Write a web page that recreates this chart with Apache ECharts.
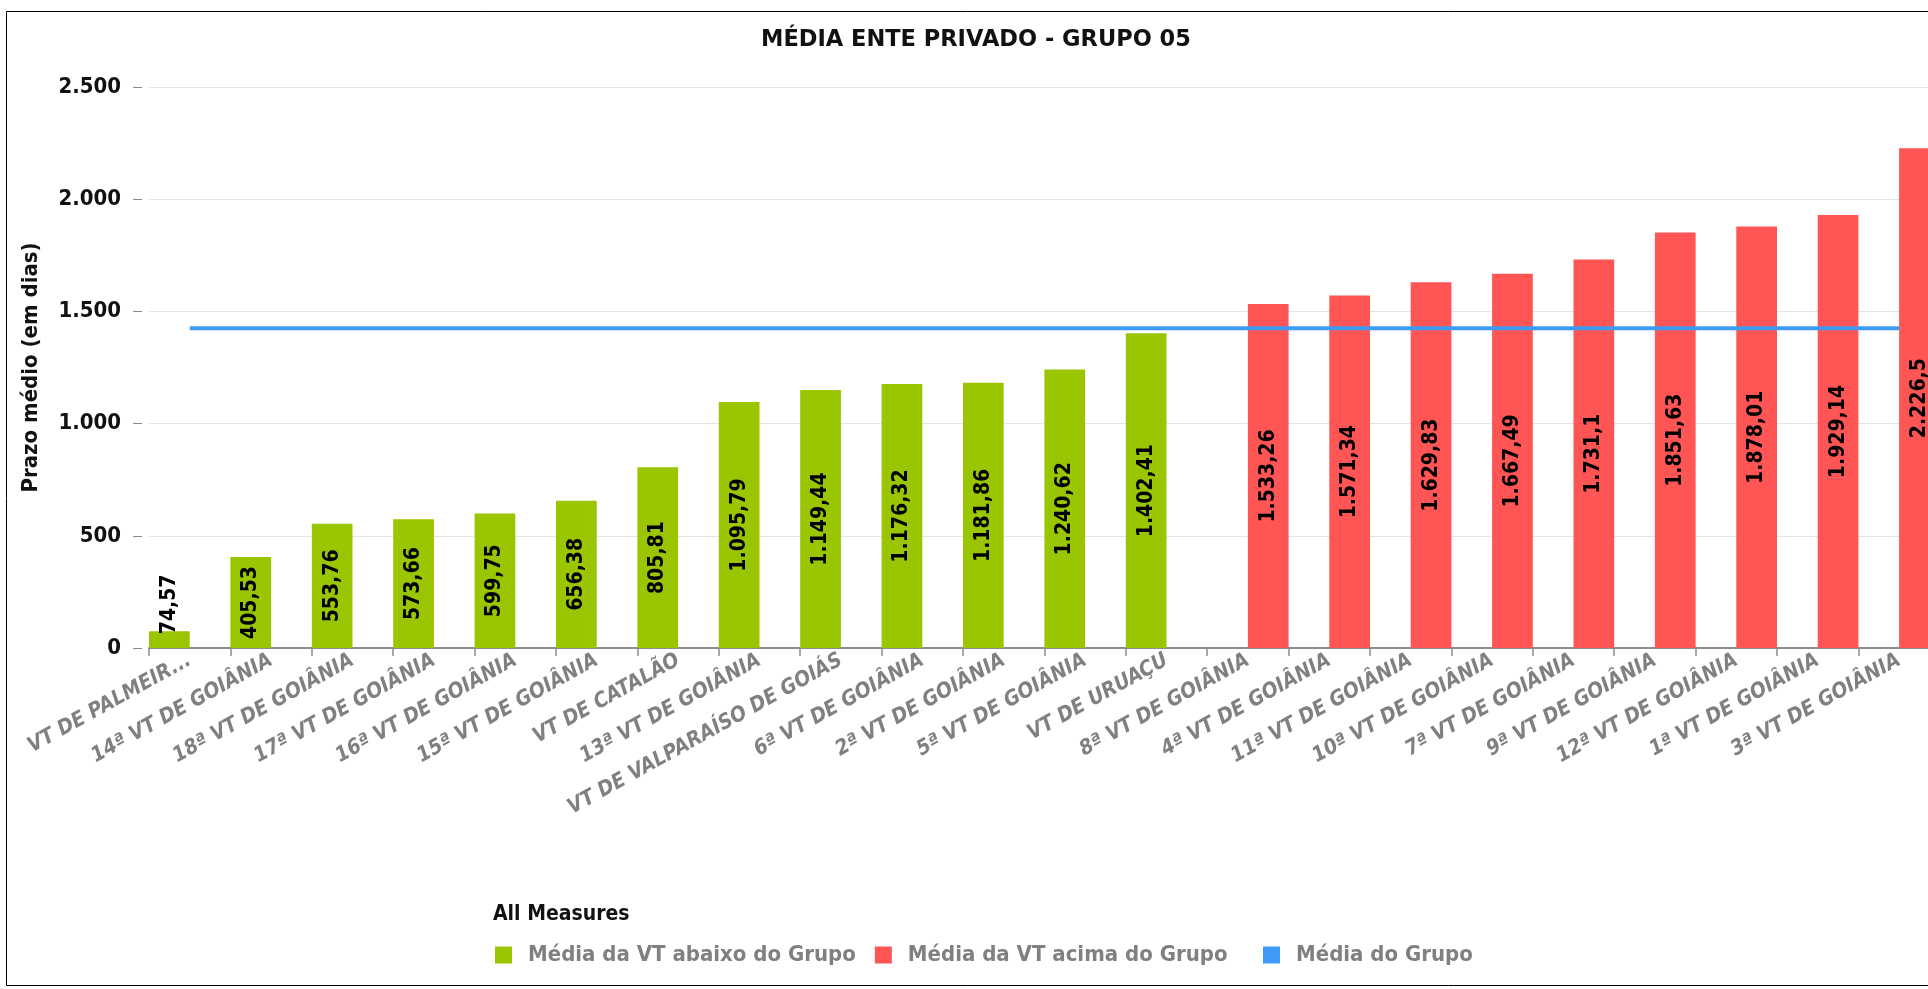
<!DOCTYPE html>
<html>
<head>
<meta charset="utf-8">
<title>Média ente privado - Grupo 05</title>
<script src="https://cdn.jsdelivr.net/npm/echarts@6/dist/echarts.min.js"></script>
<style>
  html, body { margin: 0; padding: 0; background: #fff; overflow: hidden; }
  #main { width: 1928px; height: 989px; }
</style>
</head>
<body>
<div id="main"></div>
<script>
  const categories = [
    'VT DE PALMEIR...', '14ª VT DE GOIÂNIA', '18ª VT DE GOIÂNIA', '17ª VT DE GOIÂNIA',
    '16ª VT DE GOIÂNIA', '15ª VT DE GOIÂNIA', 'VT DE CATALÃO', '13ª VT DE GOIÂNIA',
    'VT DE VALPARAÍSO DE GOIÁS', '6ª VT DE GOIÂNIA', '2ª VT DE GOIÂNIA', '5ª VT DE GOIÂNIA',
    'VT DE URUAÇU', '8ª VT DE GOIÂNIA', '4ª VT DE GOIÂNIA', '11ª VT DE GOIÂNIA',
    '10ª VT DE GOIÂNIA', '7ª VT DE GOIÂNIA', '9ª VT DE GOIÂNIA', '12ª VT DE GOIÂNIA',
    '1ª VT DE GOIÂNIA', '3ª VT DE GOIÂNIA'
  ]
  const abaixoDoGrupo = [
    74.57, 405.53, 553.76, 573.66, 599.75, 656.38, 805.81, 1095.79, 1149.44, 1176.32, 1181.86,
    1240.62, 1402.41, null, null, null, null, null, null, null, null, null
  ]
  const acimaDoGrupo = [
    null, null, null, null, null, null, null, null, null, null, null, null, null,
    1533.26, 1571.34, 1629.83, 1667.49, 1731.1, 1851.63, 1878.01, 1929.14, 2226.5
  ]
  const mediaDoGrupo = [
    1425, 1425, 1425, 1425, 1425, 1425, 1425, 1425, 1425, 1425, 1425,
    1425, 1425, 1425, 1425, 1425, 1425, 1425, 1425, 1425, 1425, 1425
  ]
  const yTicks = [0, 500, 1000, 1500, 2000, 2500]

  const FONT = "'DejaVu Sans Condensed', 'DejaVu Sans', sans-serif"

  // 1234.5 -> "1.234,5"
  function fmt (v) {
    const parts = String(v).split('.')
    parts[0] = parts[0].replace(/\B(?=(\d{3})+(?!\d))/g, '.')
    return parts.join(',')
  }

  // short bars get their label on top, the rest centered inside
  function barData (arr) {
    return arr.map(v => {
      if (v == null) return null
      if (v < 300) {
        return { value: v, label: { position: 'top', align: 'left', verticalAlign: 'middle', distance: -3 } }
      }
      return v
    })
  }

  const barLabel = {
    show: true,
    position: 'inside',
    rotate: 90,
    color: '#000',
    fontFamily: FONT,
    fontWeight: 'bold',
    fontSize: 21,
    formatter: p => fmt(p.value)
  }

  const legendBase = {
    top: 944,
    padding: 0,
    icon: 'rect',
    itemWidth: 17,
    itemHeight: 17,
    itemGap: 19,
    textStyle: { fontFamily: FONT, fontWeight: 'bold', fontSize: 22, color: '#808080', padding: [0, 0, 0, 11] }
  }

  const chart = echarts.init(document.getElementById('main'))
  const option = {
    animation: false,
    backgroundColor: '#fff',
    title: [
      {
        text: 'MÉDIA ENTE PRIVADO - GRUPO 05',
        left: 761,
        top: 29,
        padding: 0,
        textStyle: { fontFamily: 'DejaVu Sans', fontWeight: 'bold', fontSize: 22.5, color: '#111' }
      },
      {
        text: 'All Measures',
        left: 493,
        top: 904,
        padding: 0,
        textStyle: { fontFamily: FONT, fontWeight: 'bold', fontSize: 21, color: '#111' }
      }
    ],
    legend: [
      Object.assign({}, legendBase, {
        left: 495,
        data: ['Média da VT abaixo do Grupo', 'Média da VT acima do Grupo']
      }),
      Object.assign({}, legendBase, {
        left: 1263,
        data: ['Média do Grupo']
      })
    ],
    graphic: [
      {
        type: 'rect',
        silent: true,
        shape: { x: 6.5, y: 11.5, width: 2000, height: 974 },
        style: { fill: 'none', stroke: '#000', lineWidth: 1 }
      }
    ],
    grid: {
      left: 149,
      top: 87,
      width: 1790.8,
      height: 561,
      containLabel: false,
      outerBoundsMode: 'none'
    },
    xAxis: {
      type: 'category',
      data: categories,
      axisLine: { lineStyle: { color: '#8c8c8c', width: 2 } },
      axisTick: { show: true, length: 8, lineStyle: { color: '#8c8c8c', width: 1.5 } },
      axisLabel: {
        interval: 0,
        rotate: 29,
        margin: 11,
        color: '#808080',
        fontFamily: FONT,
        fontWeight: 'bold',
        fontStyle: 'italic',
        fontSize: 21
      }
    },
    yAxis: {
      type: 'value',
      min: yTicks[0],
      max: yTicks[yTicks.length - 1],
      interval: yTicks[1] - yTicks[0],
      offset: 7,
      name: 'Prazo médio (em dias)',
      nameLocation: 'middle',
      nameRotate: 90,
      nameGap: 100,
      nameTextStyle: { fontFamily: FONT, fontWeight: 'bold', fontSize: 22, color: '#111' },
      axisLine: { show: false },
      axisTick: { show: true, length: 9, lineStyle: { color: '#888' } },
      axisLabel: {
        margin: 21,
        color: '#111',
        fontFamily: FONT,
        fontWeight: 'bold',
        fontSize: 22,
        formatter: v => fmt(v)
      },
      splitLine: { lineStyle: { color: '#e4e4e4', width: 1 } }
    },
    series: [
      {
        name: 'Média da VT abaixo do Grupo',
        type: 'bar',
        barGap: '0%',
        barCategoryGap: '0%',
        itemStyle: { color: '#99c600' },
        label: barLabel,
        data: barData(abaixoDoGrupo)
      },
      {
        name: 'Média da VT acima do Grupo',
        type: 'bar',
        barGap: '0%',
        barCategoryGap: '0%',
        itemStyle: { color: '#ff5555' },
        label: barLabel,
        data: barData(acimaDoGrupo)
      },
      {
        name: 'Média do Grupo',
        type: 'line',
        symbol: 'none',
        z: 5,
        itemStyle: { color: '#3d9af5' },
        lineStyle: { color: '#3d9af5', width: 4 },
        data: mediaDoGrupo
      }
    ]
  }
  chart.setOption(option)
</script>
</body>
</html>
